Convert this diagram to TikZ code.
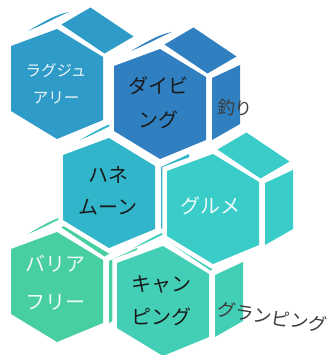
\documentclass[tikz,border=0pt]{standalone}
\usepackage{fontspec}
\usepackage{tikz}
\usepackage{xcolor}
\newfontfamily\cjk{Noto Sans CJK JP}
\definecolor{luxcol}{RGB}{47,155,200}
\definecolor{divecol}{RGB}{47,127,193}
\definecolor{honeycol}{RGB}{49,181,203}
\definecolor{gourmetcol}{RGB}{58,204,200}
\definecolor{freecol}{RGB}{71,207,160}
\definecolor{campcol}{RGB}{66,207,182}
\definecolor{darktext}{RGB}{26,26,26}
\tikzset{
  sliverop/.store in=\sliverop, sliverop=1,
  sideop/.store in=\sideop, sideop=1,
  % one block: hexagon face plus the bits of its side faces
  hexunit/.pic={
    % white margins
    \fill[white, scale=1.1] (-46,-38) -- (0,-55) -- (46,-27) -- (46,36) -- (0,55) -- (-46,27) -- cycle;
    \draw[white, line width=8pt] (4.5,-59.5) -- (33.5,-76.5) -- (76.5,-47.5) -- (47.5,-30.5) -- cycle;
    \draw[white, line width=8pt, opacity=\sideop] (52,-26) -- (80,-39) -- (80,20) -- (52,36) -- cycle;
    % thin edge on the upper left
    \path[pic actions, opacity=\sliverop] (-29,-53) .. controls (-12,-63) and (0,-70) .. (12,-72)
        .. controls (0,-67) and (-12,-60) .. cycle;
    % top face
    \path[pic actions] (4.5,-59.5) -- (33.5,-76.5) -- (76.5,-47.5) -- (47.5,-30.5) -- cycle;
    % right face
    \path[pic actions, opacity=\sideop] (52,-26) -- (80,-39) -- (80,20) -- (52,36) -- cycle;
    % front hexagon
    \path[pic actions] (-46,-38) -- (0,-55) -- (46,-27) -- (46,36) -- (0,55) -- (-46,27) -- cycle;
  },
  lbl/.style={font=\cjk\fontsize{20}{34}\selectfont, align=center, inner sep=0pt},
  sidelbl/.style={font=\cjk\fontsize{18.5}{20}\selectfont, text=darktext!85, inner sep=0pt}
}
\begin{document}
\begin{tikzpicture}[x=1pt, y=-1pt]
    \useasboundingbox (0,0) rectangle (329,355);

    % === Blocs ===
    \pic[fill=luxcol, sideop=0] at (57,84) {hexunit};
    \pic[fill=freecol] at (57,287) {hexunit};
    \pic[fill=honeycol] at (109,193) {hexunit};
    \pic[fill=campcol] at (163,301) {hexunit};
    \pic[fill=gourmetcol, sliverop=0] at (213,209) {hexunit};
    \pic[fill=divecol] at (160,104) {hexunit};

    % === Textes ===
    \node[lbl, font=\cjk\fontsize{15.5}{27}\selectfont, text=white!92!luxcol] (lux) at (56,84) {ラグジュ\\アリー};
    \node[lbl, text=darktext] (dive) at (158,103) {ダイビ\\ング};
    \node[lbl, text=darktext, font=\cjk\fontsize{20}{32}\selectfont] (honey) at (108,191) {ハネ\\ムーン};
    \node[lbl, text=white!92!gourmetcol] (gourmet) at (210,206) {グルメ};
    \node[lbl, text=white!92!freecol, font=\cjk\fontsize{20}{38}\selectfont] (free) at (55,283) {バリア\\フリー};
    \node[lbl, text=darktext, font=\cjk\fontsize{20}{33}\selectfont] (camp) at (161,301) {キャン\\ピング};

    % Sous-titres
    \node[sidelbl, font=\cjk\fontsize{17.5}{20}\selectfont, rotate=-4] (fish) at (235,108) {釣り};
    \node[sidelbl, rotate=-9] (glamp) at (272,317) {グランピング};
\end{tikzpicture}
\end{document}
